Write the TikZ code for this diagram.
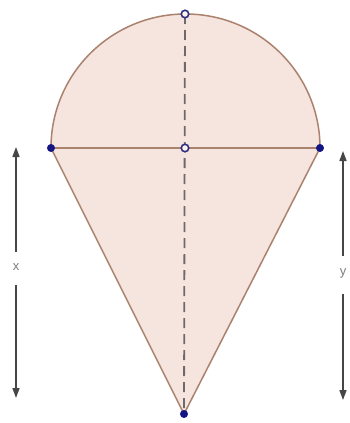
\documentclass[tikz,border=0pt]{standalone}
\usepackage{fontspec}
\setmainfont{Liberation Sans}
\usetikzlibrary{arrows.meta}
\definecolor{fillc}{RGB}{246,228,222}
\definecolor{edgec}{RGB}{170,130,110}
\definecolor{ptc}{RGB}{20,20,130}
\definecolor{dimc}{RGB}{70,70,70}
\tikzset{
  solidpt/.style={circle,fill=ptc,draw=ptc,inner sep=0pt,minimum size=7.5pt},
  hollowpt/.style={circle,fill=fillc!50!white,draw=ptc!75!gray,line width=1.6pt,inner sep=0pt,minimum size=7.5pt},
  dimarrow/.style={draw=dimc,line width=1.6pt,-{Triangle[length=10pt,width=7pt]}},
  dimlabel/.style={font=\fontsize{13}{15}\selectfont,text=dimc!70!white,inner sep=1pt}
}
\begin{document}
\begin{tikzpicture}[x=1pt,y=-1pt]
\useasboundingbox (0,0) rectangle (350,423);
\coordinate (L) at (51,148);
\coordinate (R) at (320,148);
\coordinate (C) at (185,148);
\coordinate (T) at (185,14);
\coordinate (B) at (184,414);
\filldraw[fill=fillc,draw=edgec,line width=1.5pt] (L) arc[start angle=180,end angle=0,x radius=134.5,y radius=-134] -- (B) -- cycle;
\draw[edgec,line width=1.5pt] (L) -- (R);
\draw[dimc!80!white,line width=1.8pt,dash pattern=on 10pt off 6pt] (T) -- (B);
\node[solidpt] (nL) at (L) {};
\node[solidpt] (nR) at (R) {};
\node[solidpt] (nB) at (B) {};
\node[hollowpt] (nC) at (C) {};
\node[hollowpt] (nT) at (T) {};
% x dimension
\node[dimlabel] (xl) at (16,267) {x};
\coordinate (xt) at (16,147);
\coordinate (xb) at (16,398);
\draw[dimarrow] (16,252) -- (xt);
\draw[dimarrow] (16,285) -- (xb);
% y dimension
\node[dimlabel] (yl) at (343,273) {y};
\coordinate (yt) at (343,151);
\coordinate (yb) at (343,400);
\draw[dimarrow] (343,256) -- (yt);
\draw[dimarrow] (343,294) -- (yb);
\end{tikzpicture}
\end{document}
